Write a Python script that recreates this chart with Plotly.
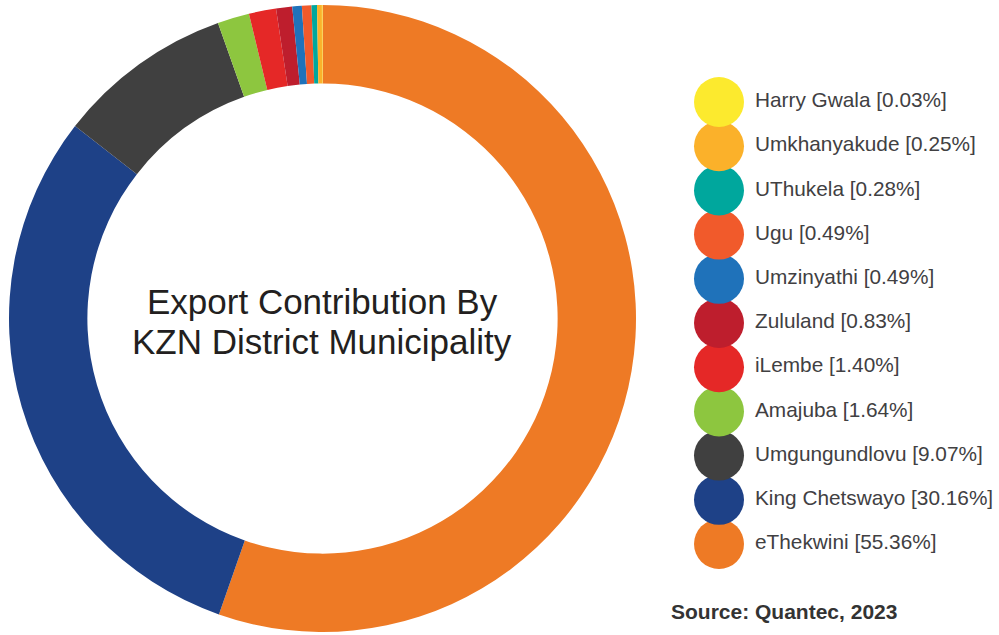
import plotly.graph_objects as go

districts = ["eThekwini", "King Chetswayo", "Umgungundlovu", "Amajuba", "iLembe",
             "Zululand", "Umzinyathi", "Ugu", "UThukela", "Umkhanyakude", "Harry Gwala"]
shares = [55.36, 30.16, 9.07, 1.64, 1.40, 0.83, 0.49, 0.49, 0.28, 0.25, 0.03]
colors = ["#EE7A25", "#1E4187", "#404040", "#8DC63F", "#E52827",
          "#BE1E2D", "#1F72BA", "#F15A2B", "#00A79D", "#FBB12A", "#FCEA2E"]
title_lines = ["Export Contribution By", "KZN District Municipality"]
source_text = "Source: Quantec, 2023"

W, H = 999, 635
FONT = "Liberation Sans, Arial, Helvetica, sans-serif"

fig = go.Figure()

fig.add_trace(go.Pie(
    labels=districts, values=shares, sort=False, direction="clockwise",
    rotation=0, hole=0.75,
    marker=dict(colors=colors, line=dict(width=0)),
    textinfo="none", hoverinfo="skip", showlegend=False,
    domain=dict(x=[9 / W, 636 / W], y=[(H - 632) / H, (H - 5) / H]),
))

legend_labels = [f"{d} [{s:.2f}%]" for d, s in zip(districts, shares)]
fig.add_trace(go.Scatter(
    x=[0] * len(districts), y=districts, mode="markers",
    marker=dict(size=50, color=colors, line=dict(width=0)),
    hoverinfo="skip", showlegend=False, cliponaxis=False,
))
text_dx = (755 - 719) / 349
fig.add_trace(go.Scatter(
    x=[text_dx] * len(districts), y=districts, mode="text",
    text=legend_labels, textposition="middle right",
    textfont=dict(family=FONT, size=20.8, color="#414042"),
    hoverinfo="skip", showlegend=False, cliponaxis=False,
))

for i, (line, ypx) in enumerate(zip(title_lines, [301, 341])):
    fig.add_annotation(
        x=322 / W, y=1 - ypx / H, xref="paper", yref="paper",
        text=line, showarrow=False,
        font=dict(family=FONT, size=35, color="#231F20"), align="center",
        xanchor="center", yanchor="middle",
    )
fig.add_annotation(
    x=669 / W, y=1 - 611 / H, xref="paper", yref="paper",
    text=f"<b>{source_text}</b>", showarrow=False,
    font=dict(family=FONT, size=21, color="#333333"),
    xanchor="left", yanchor="middle",
)

x0 = 650 / W
fig.update_layout(
    width=W, height=H, margin=dict(l=0, r=0, t=0, b=0),
    paper_bgcolor="white", plot_bgcolor="rgba(0,0,0,0)",
    xaxis=dict(domain=[x0, 1.0], range=[-(719 - 650) / 349, (999 - 719) / 349],
               visible=False, fixedrange=True),
    yaxis=dict(domain=[(H - 566.1) / H, (H - 79.9) / H], range=[-0.5, 10.5],
               type="category", categoryorder="array", categoryarray=districts,
               visible=False, fixedrange=True),
)

fig.write_html("out.html")
